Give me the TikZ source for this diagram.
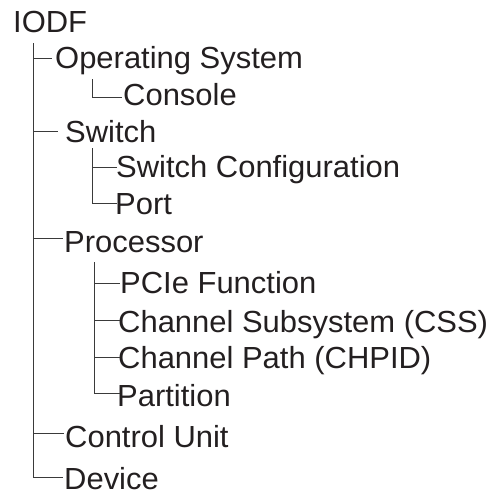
\documentclass[tikz,border=0pt]{standalone}
\usepackage{fontspec}
\setmainfont{Liberation Sans}[FakeStretch=1.015]
\definecolor{txt}{HTML}{231F20}
\definecolor{ln}{HTML}{3A3A3A}
\begin{document}
\begin{tikzpicture}[x=1pt,y=-1pt,
  lbl/.style={anchor=base west,inner sep=0pt,text depth=0pt,text=txt,font=\fontsize{30.5}{36}\selectfont},
  br/.style={draw=ln,line width=1pt}]
\useasboundingbox (0,0) rectangle (494,491);
% labels
\node[lbl] (iodf) at (13,32) {IODF};
\node[lbl] (os)   at (55,68) {Operating System};
\node[lbl] (con)  at (123,105) {Console};
\node[lbl] (sw)   at (65,142) {Switch};
\node[lbl] (swc)  at (116,177) {Switch Configuration};
\node[lbl] (port) at (115,214) {Port};
\node[lbl] (proc) at (64,252) {Processor};
\node[lbl] (pcie) at (120,293) {PCIe Function};
\node[lbl] (css)  at (118,332) {Channel Subsystem (CSS)};
\node[lbl] (chp)  at (118,368) {Channel Path (CHPID)};
\node[lbl] (part) at (117,406) {Partition};
\node[lbl] (cu)   at (65,447) {Control Unit};
\node[lbl] (dev)  at (64,489) {Device};
% branch end points
\coordinate (eos)   at (52,58);
\coordinate (esw)   at (58,131);
\coordinate (eproc) at (63,238);
\coordinate (ecu)   at (64,433);
\coordinate (edev)  at (63,477);
\coordinate (econ)  at (122,97);
\coordinate (eswc)  at (117,167);
\coordinate (eport) at (117,203);
\coordinate (epcie) at (120,283);
\coordinate (ecss)  at (120,320);
\coordinate (echp)  at (120,357);
\coordinate (epart) at (120,393);
% trunks
\coordinate (t0) at (33,43);
\coordinate (t1) at (92,79);
\coordinate (t2) at (92,148);
\coordinate (t3) at (94,262);
% main trunk
\draw[br] (t0) -- (t0 |- edev) -- (edev);
\draw[br] (t0 |- eos) -- (eos);
\draw[br] (t0 |- esw) -- (esw);
\draw[br] (t0 |- eproc) -- (eproc);
\draw[br] (t0 |- ecu) -- (ecu);
% operating system
\draw[br] (t1) -- (t1 |- econ) -- (econ);
% switch
\draw[br] (t2) -- (t2 |- eport) -- (eport);
\draw[br] (t2 |- eswc) -- (eswc);
% processor
\draw[br] (t3) -- (t3 |- epart) -- (epart);
\draw[br] (t3 |- epcie) -- (epcie);
\draw[br] (t3 |- ecss) -- (ecss);
\draw[br] (t3 |- echp) -- (echp);
\end{tikzpicture}
\end{document}
